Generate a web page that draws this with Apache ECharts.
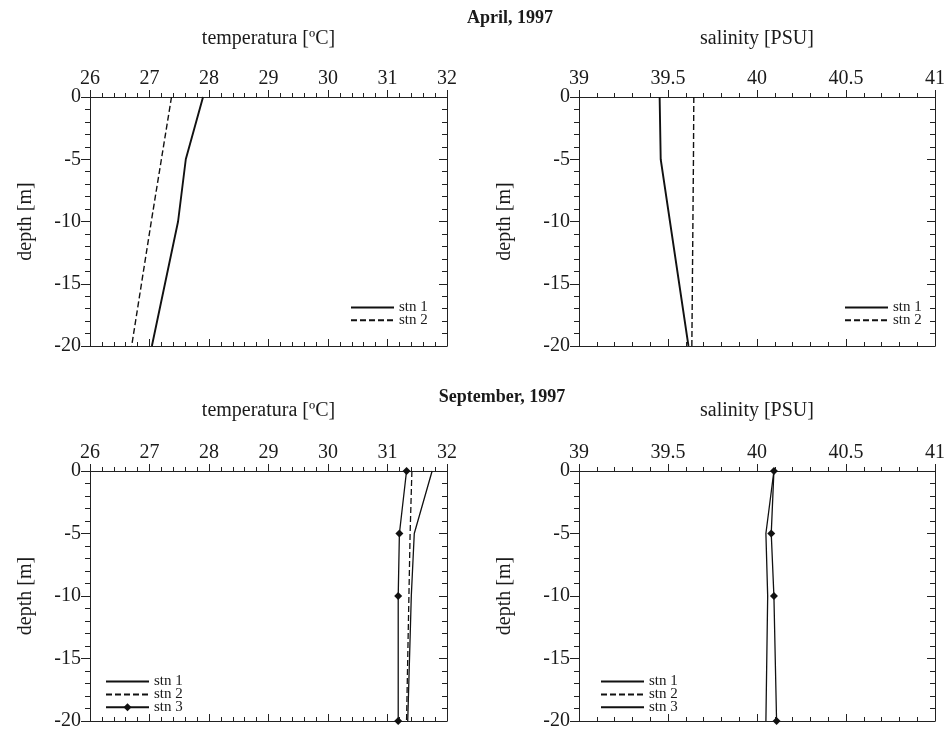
<!DOCTYPE html>
<html><head><meta charset="utf-8">
<script src="https://cdn.jsdelivr.net/npm/echarts@6/dist/echarts.min.js"></script>
<style>html,body{margin:0;padding:0;background:#fff}#c{width:948px;height:736px}</style>
</head><body><div id="c"></div>
<script>
// ---- data ----
const depths = [0, -5, -10, -20];
const tempTicks = [26, 27, 28, 29, 30, 31, 32];
const salTicks = [39, 39.5, 40, 40.5, 41];
const depthTicks = [-20, -15, -10, -5, 0];

const aprTempStn1 = [27.90, 27.61, 27.48, 27.04];
const aprTempStn2 = [27.37, 27.20, 27.03, 26.70];
const aprSalStn1 = [39.453, 39.459, 39.511, 39.615];
const aprSalStn2 = [39.645, 39.643, 39.640, 39.634];

const sepTempStn1 = [31.75, 31.45, 31.40, 31.34];
const sepTempStn2 = [31.41, 31.38, 31.36, 31.32];
const sepTempStn3 = [31.32, 31.20, 31.18, 31.18];
const sepSalStn1 = [40.095, 40.05, 40.06, 40.05];
const sepSalStn2 = [];
const sepSalStn3 = [40.095, 40.08, 40.095, 40.11];

const titles = ['April, 1997', 'September, 1997'];
const tempName = 'temperatura [\u00baC]';
const salName = 'salinity [PSU]';
const depthName = 'depth [m]';

// ---- chart ----
const FF = 'Liberation Serif';
const INK = '#1a1a1a';
const AX = '#222';

const grids = [
  {left: 90, top: 97, width: 357, height: 249},
  {left: 579, top: 97, width: 358, height: 249},
  {left: 90, top: 471, width: 357, height: 250},
  {left: 579, top: 471, width: 358, height: 250}
];

function rng(t) { return {min: t[0], max: t[t.length - 1], interval: t[1] - t[0]}; }

const xAxes = [], yAxes = [];
grids.forEach((g, i) => {
  const isTemp = (i % 2 === 0);
  const r = rng(isTemp ? tempTicks : salTicks);
  const common = {
    type: 'value', gridIndex: i, min: r.min, max: r.max, interval: r.interval,
    splitLine: {show: false},
    axisLine: {show: true, onZero: false, lineStyle: {color: AX, width: 1}},
    minorTick: {show: true, splitNumber: 5, length: 4, lineStyle: {color: AX, width: 1}}
  };
  xAxes.push(Object.assign({}, common, {
    position: 'top', name: isTemp ? tempName : salName, nameLocation: 'middle',
    nameGap: i < 2 ? 48 : 50,
    nameTextStyle: {fontFamily: FF, fontSize: 20, color: INK},
    axisTick: {show: true, inside: false, length: 7, lineStyle: {color: AX, width: 1}},
    axisLabel: {show: true, margin: 8, fontFamily: FF, fontSize: 20, color: INK,
      formatter: v => String(v)}
  }));
  xAxes.push(Object.assign({}, common, {
    position: 'bottom',
    axisTick: {show: true, inside: true, length: 7, lineStyle: {color: AX, width: 1}},
    axisLabel: {show: false}
  }));
  const d = rng(depthTicks);
  const ycommon = {
    type: 'value', gridIndex: i, min: d.min, max: d.max, interval: d.interval,
    splitLine: {show: false},
    axisLine: {show: true, onZero: false, lineStyle: {color: AX, width: 1}},
    minorTick: {show: true, splitNumber: 5, length: 5, lineStyle: {color: AX, width: 1}}
  };
  yAxes.push(Object.assign({}, ycommon, {
    position: 'left', name: depthName, nameLocation: 'middle', nameGap: isTemp ? 54 : 64,
    nameTextStyle: {fontFamily: FF, fontSize: 20, color: INK},
    axisTick: {show: true, inside: false, length: 9, lineStyle: {color: AX, width: 1}},
    axisLabel: {show: true, margin: 9, fontFamily: FF, fontSize: 20, color: INK,
      formatter: v => String(v)}
  }));
  yAxes.push(Object.assign({}, ycommon, {
    position: 'right',
    axisTick: {show: true, inside: true, length: 8, lineStyle: {color: AX, width: 1}},
    axisLabel: {show: false}
  }));
});

function mk(name, g, vals, opts) {
  opts = opts || {};
  return {
    type: 'line', name: name, xAxisIndex: 2 * g, yAxisIndex: 2 * g,
    data: vals.map((v, k) => [v, depths[k]]),
    symbol: opts.symbol || 'none', symbolSize: opts.symbolSize || 7,
    showSymbol: !!opts.symbol,
    lineStyle: {color: '#111', width: opts.width || 1.5, type: opts.dash ? [6, 3] : 'solid'},
    itemStyle: {color: '#111'},
    clip: false, silent: true, animation: false
  };
}

const series = [
  mk('aT|stn 1', 0, aprTempStn1, {width: 1.9}),
  mk('aT|stn 2', 0, aprTempStn2, {width: 1.4, dash: true}),
  mk('aS|stn 1', 1, aprSalStn1, {width: 1.9}),
  mk('aS|stn 2', 1, aprSalStn2, {width: 1.4, dash: true}),
  mk('sT|stn 1', 2, sepTempStn1, {width: 1.3}),
  mk('sT|stn 2', 2, sepTempStn2, {width: 1.3, dash: true}),
  mk('sT|stn 3', 2, sepTempStn3, {width: 1.3, symbol: 'diamond', symbolSize: 8}),
  mk('sS|stn 1', 3, sepSalStn1, {width: 1.3}),
  mk('sS|stn 2', 3, sepSalStn2, {width: 1.3, dash: true}),
  mk('sS|stn 3', 3, sepSalStn3, {width: 1.3, symbol: 'diamond', symbolSize: 8})
];

const noMark = n => ({name: n, itemStyle: {opacity: 0}});

function lg(names, left, top, step) {
  return {
    data: names, left: left, top: top, orient: 'vertical',
    itemWidth: 43, itemHeight: 10, itemGap: step, padding: 0,
    selectedMode: false,
    formatter: n => n.split('|')[1],
    textStyle: {fontFamily: FF, fontSize: 15, color: INK, lineHeight: 10}
  };
}

const option = {
  animation: false,
  backgroundColor: '#fff',
  title: [
    {text: titles[0], left: 510, top: 9, textAlign: 'center', padding: 0,
      textStyle: {fontFamily: FF, fontWeight: 'bold', fontSize: 18, color: INK}},
    {text: titles[1], left: 502, top: 388, textAlign: 'center', padding: 0,
      textStyle: {fontFamily: FF, fontWeight: 'bold', fontSize: 18, color: INK}}
  ],
  grid: grids,
  xAxis: xAxes,
  yAxis: yAxes,
  legend: [
    lg([noMark('aT|stn 1'), noMark('aT|stn 2')], 350, 300, -2.2),
    lg([noMark('aS|stn 1'), noMark('aS|stn 2')], 844, 300, -2.2),
    lg([noMark('sT|stn 1'), noMark('sT|stn 2'), {name: 'sT|stn 3'}], 105, 674, -2.1),
    lg([noMark('sS|stn 1'), noMark('sS|stn 2'), noMark('sS|stn 3')], 600, 674, -2.1)
  ],
  series: series
};

const chart = echarts.init(document.getElementById('c'), null, {renderer: 'canvas'});
chart.setOption(option);
</script>
</body></html>
